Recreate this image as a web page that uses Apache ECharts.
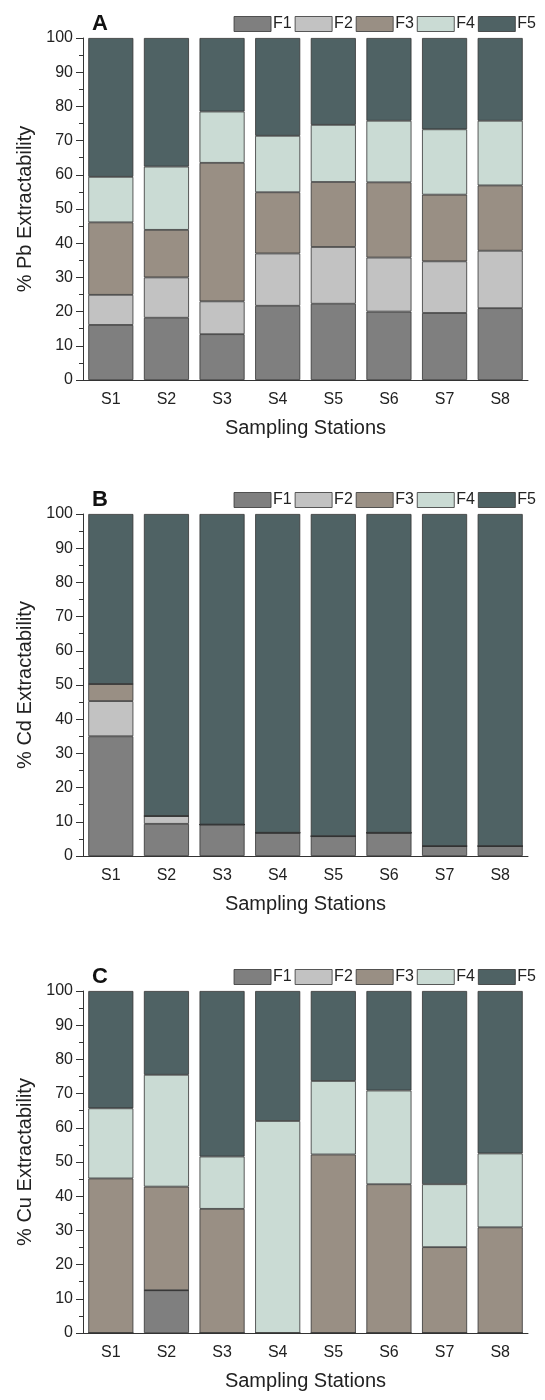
<!DOCTYPE html>
<html>
<head>
<meta charset="utf-8">
<title>Extractability</title>
<script src="https://cdn.jsdelivr.net/npm/echarts@6/dist/echarts.min.js"></script>
<style>
  html, body { margin: 0; padding: 0; background: #fff; }
  #chart { width: 545px; height: 1400px; }
</style>
</head>
<body>
<div id="chart"></div>
<script>
// stations
const stations = ['S1', 'S2', 'S3', 'S4', 'S5', 'S6', 'S7', 'S8']
const fractions = ['F1', 'F2', 'F3', 'F4', 'F5']

// Pb (panel A), % per fraction
const pbF1 = [16.1, 18.2, 13.4, 21.7, 22.3, 20.0, 19.6, 21.0]
const pbF2 = [8.8, 11.8, 9.6, 15.3, 16.6, 15.8, 15.1, 16.8]
const pbF3 = [21.2, 13.9, 40.5, 17.9, 19.0, 22.0, 19.5, 19.1]
const pbF4 = [13.3, 18.5, 15.0, 16.5, 16.7, 18.0, 19.1, 18.9]
const pbF5 = [40.6, 37.6, 21.5, 28.6, 25.4, 24.2, 26.7, 24.2]

// Cd (panel B)
const cdF1 = [35.0, 9.4, 9.2, 6.8, 5.8, 6.8, 2.9, 2.9]
const cdF2 = [10.3, 2.3, 0, 0, 0, 0, 0, 0]
const cdF3 = [5.0, 0, 0, 0, 0, 0, 0, 0]
const cdF4 = [0, 0, 0, 0, 0, 0, 0, 0]
const cdF5 = [49.7, 88.3, 90.8, 93.2, 94.2, 93.2, 97.1, 97.1]

// Cu (panel C)
const cuF1 = [0, 12.5, 0, 0, 0, 0, 0, 0]
const cuF2 = [0, 0, 0, 0, 0, 0, 0, 0]
const cuF3 = [45.2, 30.3, 36.3, 0, 52.2, 43.5, 25.1, 30.9]
const cuF4 = [20.5, 32.7, 15.3, 62.0, 21.5, 27.4, 18.4, 21.6]
const cuF5 = [34.3, 24.5, 48.4, 38.0, 26.3, 29.1, 56.5, 47.5]

const yTicks = { min: 0, max: 100, interval: 10 }

const panels = [
  { letter: 'A', yName: '% Pb Extractability', top: 38, data: [pbF1, pbF2, pbF3, pbF4, pbF5] },
  { letter: 'B', yName: '% Cd Extractability', top: 514, data: [cdF1, cdF2, cdF3, cdF4, cdF5] },
  { letter: 'C', yName: '% Cu Extractability', top: 991, data: [cuF1, cuF2, cuF3, cuF4, cuF5] }
]

const colors = ['#7f7f7f', '#c2c2c2', '#998f84', '#cadbd4', '#4f6264']
const font = 'Liberation Sans, Arial, sans-serif'
const ink = '#222'
const plotH = 342

const grid = []
const xAxis = []
const yAxis = []
const series = []
const title = []
const legend = []

panels.forEach((p, i) => {
  grid.push({ left: 83, right: 17, top: p.top, height: plotH })

  title.push({
    text: p.letter,
    left: 87,
    top: p.top - 30,
    textStyle: { fontFamily: font, fontSize: 22, fontWeight: 'bold', color: '#111' }
  })

  legend.push({
    data: fractions,
    right: 4,
    top: p.top - 27,
    icon: 'rect',
    itemWidth: 37,
    itemHeight: 15,
    itemGap: 3,
    selectedMode: false,
    itemStyle: { borderColor: '#333', borderWidth: 0.8 },
    textStyle: { fontFamily: font, fontSize: 16, color: ink, padding: [0, 0, 0, -3] }
  })

  // main category axis: labels + ticks at the centres
  xAxis.push({
    type: 'category',
    gridIndex: i,
    data: stations,
    name: 'Sampling Stations',
    nameLocation: 'middle',
    nameGap: 38,
    nameTextStyle: { fontFamily: font, fontSize: 20, color: ink },
    axisLine: { lineStyle: { color: '#333', width: 1 } },
    axisTick: { alignWithLabel: true, length: 6, lineStyle: { color: '#333' } },
    axisLabel: { fontFamily: font, fontSize: 16, color: ink, margin: 12 },
    splitLine: { show: false }
  })
  // second axis only for the short ticks between stations
  xAxis.push({
    type: 'category',
    gridIndex: i,
    data: stations,
    position: 'bottom',
    axisLine: { show: false },
    axisTick: { length: 3, lineStyle: { color: '#333' } },
    axisLabel: { show: false },
    splitLine: { show: false }
  })

  yAxis.push({
    type: 'value',
    gridIndex: i,
    min: yTicks.min,
    max: yTicks.max,
    interval: yTicks.interval,
    name: p.yName,
    nameLocation: 'middle',
    nameGap: 46,
    nameTextStyle: { fontFamily: font, fontSize: 20, color: ink },
    axisLine: { show: true, lineStyle: { color: '#333', width: 1 } },
    axisTick: { show: true, length: 7, lineStyle: { color: '#333' } },
    minorTick: { show: true, splitNumber: 2, length: 4, lineStyle: { color: '#333' } },
    axisLabel: { fontFamily: font, fontSize: 16, color: ink, margin: 10 },
    splitLine: { show: false }
  })

  fractions.forEach((f, k) => {
    series.push({
      name: f,
      type: 'bar',
      stack: 'panel' + i,
      xAxisIndex: i * 2,
      yAxisIndex: i,
      barCategoryGap: '19%',
      data: p.data[k],
      itemStyle: { color: colors[k], borderColor: '#333', borderWidth: 0.8 },
      emphasis: { disabled: true }
    })
  })
})

const myChart = echarts.init(document.getElementById('chart'), null, { renderer: 'canvas' })
myChart.setOption({
  animation: false,
  color: colors,
  title,
  legend,
  grid,
  xAxis,
  yAxis,
  series
})
</script>
</body>
</html>
